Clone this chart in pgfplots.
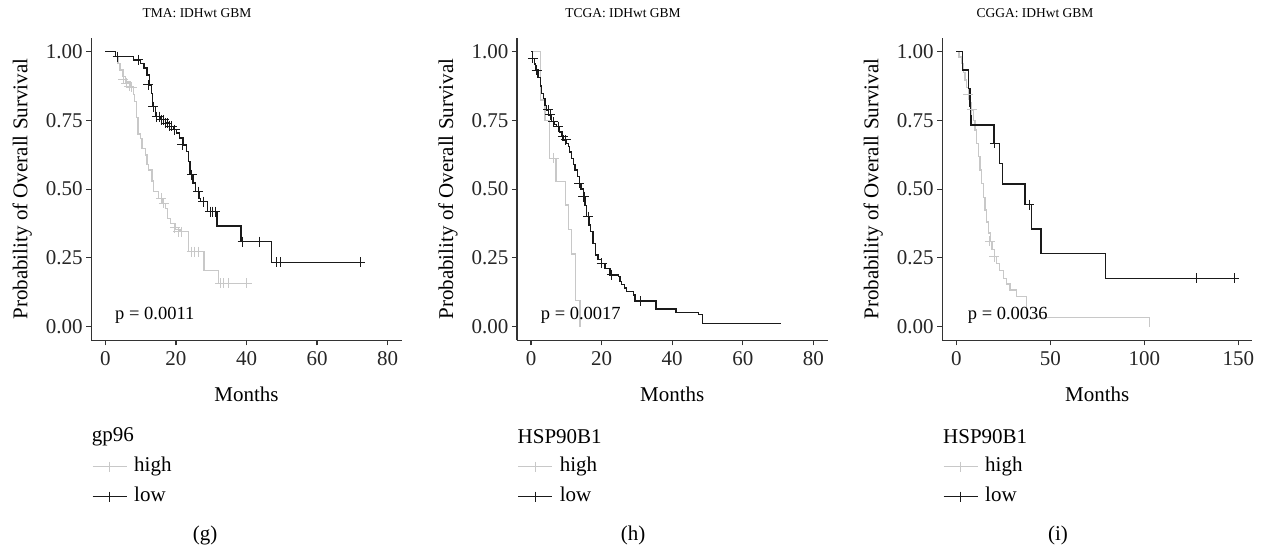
\documentclass[border=0pt]{standalone}
\usepackage{fontspec}
\setmainfont{Liberation Serif}
\usepackage{pgfplots}
\pgfplotsset{compat=1.18}

\definecolor{kmhigh}{RGB}{200,200,200}
\definecolor{kmlow}{RGB}{26,26,26}
\definecolor{axgray}{RGB}{51,51,51}
\newcommand{\fsz}[1]{\fontsize{#1}{#1}\selectfont}

\pgfplotsset{
  kmaxis/.style={
    scale only axis, height=302.5pt,
    ymin=-0.05, ymax=1.05,
    ytick={0,0.25,0.5,0.75,1},
    axis x line*=bottom, axis y line*=left,
    axis line style={-, line width=1.2pt, color=axgray},
    tick align=outside, major tick length=5pt,
    tick style={line width=1.2pt, color=axgray},
    minor tick num=0,
    tick label style={font=\fsz{21}, text=black!85},
    yticklabel style={/pgf/number format/.cd, fixed, fixed zerofill, precision=2, assume math mode=true},
    xticklabel style={/pgf/number format/assume math mode=true, yshift=-3pt},
    every axis x label/.style={at={(axis description cs:0.5,0)}, anchor=center, yshift=-53.6pt, font=\fsz{21}},
    every axis y label/.style={at={(axis description cs:-0.222,0.5)}, rotate=90, anchor=center, font=\fsz{21}},
    xlabel={Months}, ylabel={Probability of Overall Survival},
    legend cell align=left,
    legend style={at={(axis description cs:0,0)}, anchor=north west, xshift=0.5pt, yshift=-116pt,
      draw=none, fill=none, inner sep=0pt, font=\fsz{21}, row sep=10pt, column sep=7pt,
      nodes={inner sep=0pt, text height=15pt, text depth=5pt}},
    legend image code/.code={\draw[mark repeat=2, mark phase=2, #1] plot coordinates {(0pt,0pt) (17pt,0pt) (34pt,0pt)};},
    clip=false,
  },
  highline/.style={const plot, color=kmhigh, line width=1.3pt, mark=none, forget plot},
  lowline/.style={const plot, color=kmlow, line width=1.3pt, mark=none, forget plot},
  highcens/.style={only marks, mark=+, mark size=5pt, color=kmhigh, mark options={line width=1pt}, forget plot},
  lowcens/.style={only marks, mark=+, mark size=5pt, color=kmlow, mark options={line width=1pt}, forget plot},
}

\begin{document}
\begin{tikzpicture}
\useasboundingbox (0,0) rectangle (1261pt,548pt);

% ---- (g) TMA ----
\begin{axis}[kmaxis, width=310.6pt, at={(91.2pt,207.6pt)}, anchor=south west,
  xmin=-4, xmax=84, xtick={0,20,40,60,80}]
\addplot[highline] coordinates {
 (0,1.000)(2.8,0.982)(3.6,0.958)(4.2,0.933)(5.0,0.909)(5.8,0.890)(7.0,0.870)(7.9,0.845)
 (8.3,0.818)(8.8,0.760)(9.3,0.700)(9.9,0.685)(10.4,0.649)(11.3,0.624)(11.8,0.590)(12.3,0.570)
 (13.2,0.530)(13.6,0.491)(15.0,0.467)(16.3,0.448)(17.0,0.430)(17.6,0.394)(18.5,0.376)
 (19.9,0.352)(21.2,0.345)(23.5,0.273)(28.0,0.205)(32.0,0.158)(41.5,0.158)};
\addplot[highcens] coordinates {
 (5.1,0.900)(6.0,0.885)(6.8,0.875)(7.5,0.870)(15.9,0.467)(16.6,0.448)(19.7,0.360)
 (20.6,0.345)(21.5,0.345)(24.5,0.273)(25.4,0.273)(26.3,0.273)(32.6,0.158)(33.4,0.158)
 (34.8,0.158)(40.0,0.158)};
\addplot[lowline] coordinates {
 (0,1.000)(2.8,0.982)(7.9,0.970)(10.0,0.958)(11.0,0.940)(11.8,0.915)(12.5,0.879)(13.0,0.849)
 (13.4,0.800)(14.2,0.764)(15.5,0.752)(17.0,0.740)(18.2,0.728)(19.3,0.716)(20.2,0.704)
 (21.0,0.686)(22.0,0.661)(23.0,0.637)(23.6,0.600)(24.0,0.552)(24.8,0.522)(25.5,0.491)
 (26.5,0.467)(27.0,0.455)(29.0,0.418)(31.6,0.366)(38.4,0.309)(47.1,0.234)(72.5,0.234)};
\addplot[lowcens] coordinates {
 (3.5,0.982)(9.3,0.970)(12.2,0.879)(13.6,0.800)(14.6,0.764)(15.3,0.764)(15.9,0.752)(16.5,0.752)
 (17.1,0.740)(17.6,0.740)(18.3,0.728)(18.8,0.728)(19.7,0.716)(21.8,0.661)(24.5,0.552)
 (26.4,0.491)(27.8,0.455)(29.8,0.418)(30.5,0.418)(31.2,0.418)(38.9,0.309)(43.8,0.309)
 (48.6,0.234)(49.5,0.234)(72.2,0.234)};
\addlegendimage{color=kmhigh, line width=1.3pt, mark=+, mark size=5pt}
\addlegendentry{high}
\addlegendimage{color=kmlow, line width=1.3pt, mark=+, mark size=5pt}
\addlegendentry{low}
\end{axis}

% ---- (h) TCGA ----
\begin{axis}[kmaxis, width=310.6pt, at={(516.9pt,207.6pt)}, anchor=south west,
  xmin=-4, xmax=84, xtick={0,20,40,60,80}]
\addplot[highline] coordinates {
 (0,1.000)(2.6,0.824)(4.0,0.750)(5.2,0.612)(7.1,0.527)(9.8,0.442)(10.6,0.352)(11.5,0.264)
 (12.7,0.095)(13.9,0.000)};
\addplot[highcens] coordinates {(6.5,0.612)};
\addplot[lowline] coordinates {
 (0,1.000)(0.5,0.976)(0.9,0.955)(1.3,0.933)(2.0,0.905)(2.6,0.875)(3.0,0.849)(3.5,0.830)
 (4.0,0.805)(4.45,0.788)(5.0,0.770)(5.86,0.745)(6.5,0.736)(7.3,0.727)(8.0,0.708)(8.6,0.693)
 (9.2,0.679)(10.0,0.667)(10.6,0.655)(11.0,0.635)(11.5,0.612)(12.0,0.590)(12.5,0.570)
 (13.1,0.545)(13.7,0.521)(14.2,0.500)(14.8,0.473)(15.3,0.440)(15.8,0.400)(16.4,0.370)
 (16.9,0.345)(17.6,0.303)(18.3,0.261)(19.0,0.245)(20.0,0.230)(21.0,0.212)(22.4,0.188)
 (24.7,0.182)(25.2,0.165)(25.7,0.152)(26.5,0.140)(27.1,0.127)(29.0,0.115)(29.5,0.093)
 (35.4,0.064)(41.1,0.052)(47.4,0.044)(48.6,0.012)(70.9,0.012)};
\addplot[lowcens] coordinates {
 (0.5,0.976)(1.6,0.933)(4.9,0.788)(5.4,0.770)(6.3,0.745)(7.7,0.727)(9.0,0.693)(9.8,0.679)
 (13.7,0.521)(14.8,0.473)(15.1,0.473)(16.2,0.400)(20.0,0.230)(22.9,0.188)(30.9,0.093)};
\addlegendimage{color=kmhigh, line width=1.3pt, mark=+, mark size=5pt}
\addlegendentry{high}
\addlegendimage{color=kmlow, line width=1.3pt, mark=+, mark size=5pt}
\addlegendentry{low}
\end{axis}

% ---- (i) CGGA ----
\begin{axis}[kmaxis, width=310.2pt, at={(942.2pt,207.6pt)}, anchor=south west,
  xmin=-7.5, xmax=157.5, xtick={0,50,100,150}]
\addplot[highline] coordinates {
 (0,1.000)(1.5,0.980)(2.9,0.958)(3.8,0.925)(4.6,0.897)(5.5,0.870)(6.4,0.843)(7.3,0.815)
 (8.2,0.788)(9.0,0.750)(9.9,0.715)(10.8,0.665)(11.7,0.618)(12.6,0.570)(13.5,0.521)
 (14.4,0.470)(15.3,0.424)(16.2,0.380)(17.0,0.340)(18.0,0.310)(19.0,0.280)(20.2,0.255)
 (21.5,0.230)(23.0,0.205)(25.0,0.176)(26.8,0.155)(28.6,0.133)(32.1,0.109)(37.4,0.034)
 (102.7,0.000)};
\addplot[highcens] coordinates {(6.4,0.843)(8.2,0.788)(17.9,0.310)(20.2,0.255)};
\addplot[lowline] coordinates {
 (0,1.000)(3.2,0.933)(6.4,0.867)(7.3,0.800)(7.8,0.733)(20.1,0.667)(22.9,0.594)(24.5,0.519)
 (36.5,0.443)(40.1,0.355)(45.1,0.267)(79.5,0.176)(150.5,0.176)};
\addplot[lowcens] coordinates {(20.5,0.667)(38.8,0.443)(127.5,0.176)(147.9,0.176)};
\addlegendimage{color=kmhigh, line width=1.3pt, mark=+, mark size=5pt}
\addlegendentry{high}
\addlegendimage{color=kmlow, line width=1.3pt, mark=+, mark size=5pt}
\addlegendentry{low}
\end{axis}

% titles, p-values, legend titles, panel letters
\node[font=\fsz{13.5}] at (197pt,535pt) {TMA: IDHwt GBM};
\node[font=\fsz{13.5}] at (623pt,535pt) {TCGA: IDHwt GBM};
\node[font=\fsz{13.5}] at (1035pt,535pt) {CGGA: IDHwt GBM};

\node[anchor=base west, inner sep=0pt, font=\fsz{18.5}] at (115pt,228.5pt) {p = 0.0011};
\node[anchor=base west, inner sep=0pt, font=\fsz{18.5}] at (540.7pt,228.5pt) {p = 0.0017};
\node[anchor=base west, inner sep=0pt, font=\fsz{18.5}] at (967.7pt,228.5pt) {p = 0.0036};

\node[anchor=west, inner sep=0pt, font=\fsz{21}] at (91.7pt,111pt) {gp96};
\node[anchor=west, inner sep=0pt, font=\fsz{21}] at (517.5pt,111pt) {HSP90B1};
\node[anchor=west, inner sep=0pt, font=\fsz{21}] at (943pt,111pt) {HSP90B1};

\node[font=\fsz{21}] at (205pt,13pt) {(g)};
\node[font=\fsz{21}] at (633pt,13pt) {(h)};
\node[font=\fsz{21}] at (1058pt,13pt) {(i)};
\end{tikzpicture}
\end{document}
